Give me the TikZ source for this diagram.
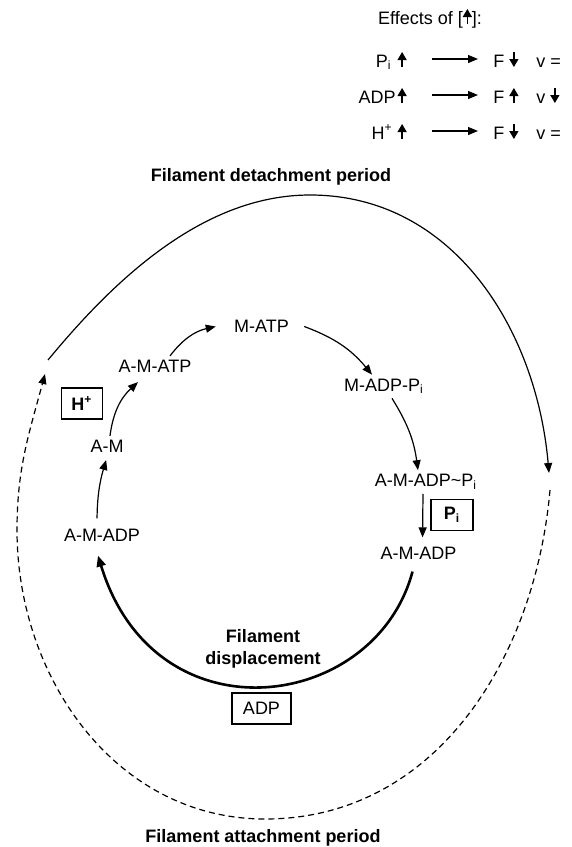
\documentclass[tikz,border=0pt]{standalone}
\usepackage{fontspec}
\setmainfont{Liberation Sans}
\usetikzlibrary{arrows.meta}
\tikzset{%
    thn/.style={line width=0.6pt},
    thna/.style={line width=0.6pt, -{Triangle[length=5pt,width=4pt]}},
    thka/.style={line width=1.3pt, -{Triangle[length=5.5pt,width=4.5pt]}},
    dsh/.style={line width=0.6pt, dash pattern=on 3pt off 2pt},
    dsha/.style={dsh, -{Triangle[length=5pt,width=4pt]}},
    st/.style={inner sep=2pt},
    bx/.style={draw, line width=0.6pt, minimum height=15.5pt, inner sep=0pt},
    lbl/.style={font=\fontsize{9}{11}\selectfont\bfseries, align=center},
}
\newcommand{\arup}{\tikz[baseline=0pt]\draw[line width=0.7pt,-{Triangle[length=4pt,width=4.5pt]}] (0pt,0pt) -- (0pt,7.5pt);}
\newcommand{\ardn}{\tikz[baseline=0pt]\draw[line width=0.7pt,-{Triangle[length=4pt,width=4.5pt]}] (0pt,7.5pt) -- (0pt,0pt);}

\begin{document}
\begin{tikzpicture}[x=0.5pt, y=0.5pt, every node/.style={font=\fontsize{9}{11}\selectfont}]
    \useasboundingbox (0,0) rectangle (572,-847);
    % effects table
    \node[anchor=base] (eff) at (430,-24) {Effects of [\arup]:};
    \node[anchor=base east, inner sep=0pt] (pL) at (407,-67) {P\textsubscript{i}\hspace{3pt}\arup};
    \node[anchor=base west, inner sep=0pt] (pR) at (493,-67) {F\hspace{2.5pt}\ardn\hspace{9pt}v\hspace{2.5pt}=};
    \node[anchor=base east, inner sep=0pt] (adpL) at (407,-103) {ADP\hspace{1pt}\arup};
    \node[anchor=base west, inner sep=0pt] (adpR) at (493,-103) {F\hspace{2.5pt}\arup\hspace{9pt}v\hspace{2.5pt}\ardn};
    \node[anchor=base east, inner sep=0pt] (hL) at (407,-139) {H\textsuperscript{+}\hspace{2.5pt}\arup};
    \node[anchor=base west, inner sep=0pt] (hR) at (493,-139) {F\hspace{2.5pt}\ardn\hspace{9pt}v\hspace{2.5pt}=};
    \draw[thna] ([xshift=12.5pt,yshift=4pt]pL.base east) -- ([xshift=-7.5pt,yshift=4pt]pR.base west);
    \draw[thna] ([xshift=12.5pt,yshift=4pt]adpL.base east) -- ([xshift=-7.5pt,yshift=4pt]adpR.base west);
    \draw[thna] ([xshift=12.5pt,yshift=4pt]hL.base east) -- ([xshift=-7.5pt,yshift=4pt]hR.base west);
    % period labels
    \node[lbl, anchor=base] (detach) at (271,-181) {Filament detachment period};
    \node[lbl, anchor=base] (attach) at (263,-842) {Filament attachment period};
    % cycle states
    \node[st] (matp) at (261.5,-326.5) {M-ATP};
    \node[st] (amatp) at (155,-366.5) {A-M-ATP};
    \node[st] (am) at (107,-446.5) {A-M};
    \node[st] (amadpl) at (102,-535) {A-M-ADP};
    \node[st] (madppi) at (384,-386.5) {M-ADP-P\textsubscript{i}};
    \node[st] (amadppi) at (426,-482) {A-M-ADP\textasciitilde P\textsubscript{i}};
    \node[st] (amadpr) at (418.5,-553) {A-M-ADP};
    \node[bx, minimum width=20.5pt] (hion) at (82,-403.5) {\bfseries H\textsuperscript{+}};
    \node[bx, minimum width=21pt] (pibox) at (452,-515) {\bfseries P\textsubscript{i}};
    \node[bx, minimum width=29.5pt] (adpbox) at (261.5,-708.5) {ADP};
    \node[lbl] (disp) at (263,-649) {Filament\\displacement};
    % cycle arrows
    \draw[thna, shorten <=3pt, shorten >=1.5pt] ([xshift=-2.5pt]amadpl.north) to[bend left=8] (am.south);
    \draw[thna] ([xshift=1.5pt]am.north) to[bend left=20] ([xshift=-8.5pt,yshift=-2.5pt]amatp.south);
    \draw[thna] ([xshift=7.5pt]amatp.north) to[bend left=20] ([xshift=-7pt]matp.west);
    \draw[thna] ([xshift=5.5pt]matp.east) to[bend left=15] ([xshift=-6pt]madppi.north);
    \draw[thna] ([xshift=4pt]madppi.south) to[bend left=12] ([xshift=-4pt]amadppi.north);
    \draw[thna, shorten >=2.5pt] ([xshift=-1.5pt]amadppi.south) -- ([xshift=2pt]amadpr.north);
    \draw[thka] ([xshift=-3pt,yshift=-4pt]amadpr.south) .. controls (375,-712) and (155,-742) .. ([xshift=-2pt,yshift=-5pt]amadpl.south);
    % outer periods
    \coordinate (dt0) at (48,-360);
    \coordinate (dttop) at (310,-195);
    \coordinate (dt1) at (549,-473);
    \draw[thna] (dt0) .. controls (110,-285) and (200,-195) .. (dttop) to[out=0,in=95] (dt1);
    \coordinate (at0) at (550,-490);
    \coordinate (atbot) at (265,-819);
    \coordinate (atl) at (17,-530);
    \coordinate (at1) at (45,-374);
    \draw[dsha] (at0) to[out=-95,in=0] (atbot) to[out=180,in=-90] (atl) to[out=90,in=-105] (at1);
\end{tikzpicture}
\end{document}
